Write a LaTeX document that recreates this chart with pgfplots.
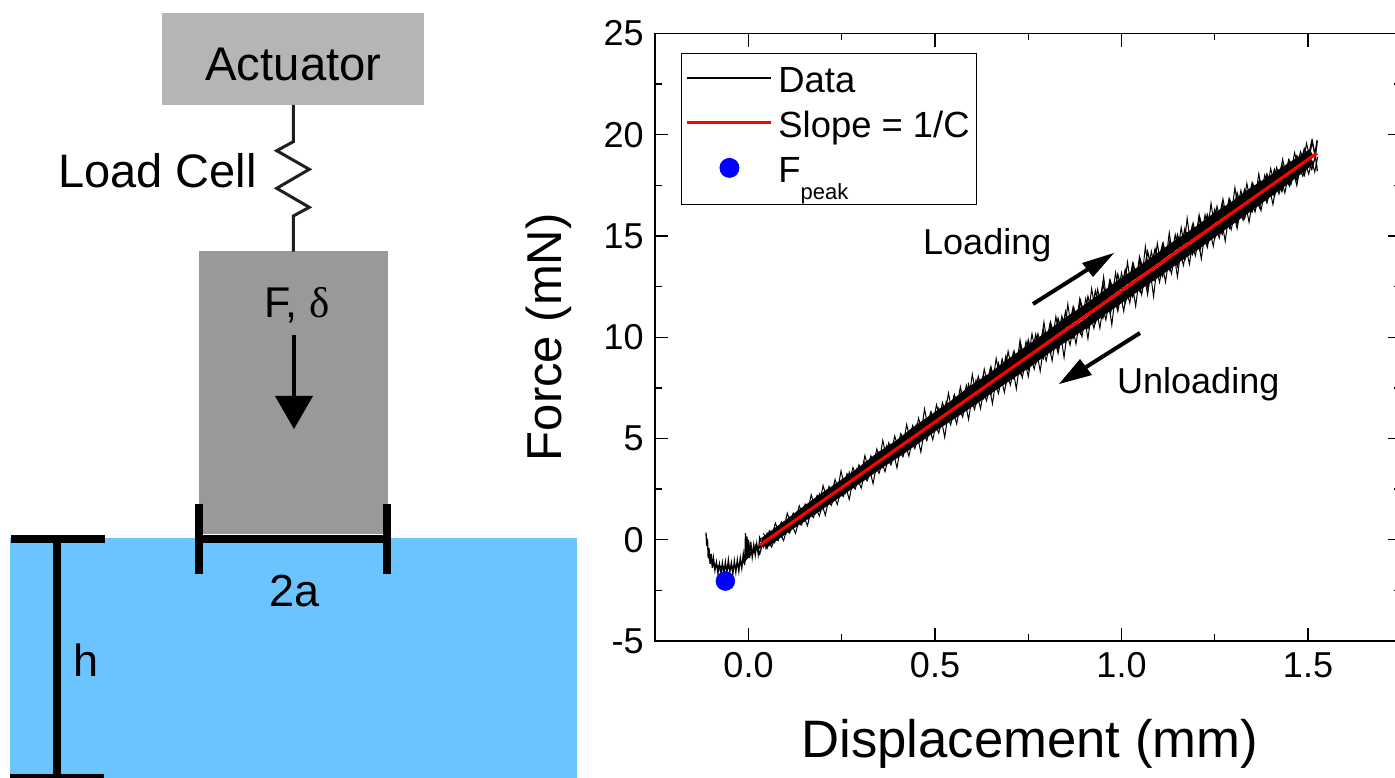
\documentclass[border=0pt]{standalone}
\usepackage{fontspec}
\setmainfont{Liberation Sans}
\newfontfamily\serifdelta{Liberation Serif}
\usepackage{pgfplots}
\pgfplotsset{compat=1.18}
\definecolor{blueh}{HTML}{6CC4FF}
\definecolor{actg}{HTML}{B6B5B3}
\definecolor{blockg}{HTML}{999999}
\newcommand{\fs}[1]{\fontsize{#1pt}{#1pt}\selectfont}
\begin{document}
\begin{tikzpicture}[x=1pt,y=1pt]
\path[use as bounding box] (0,0) rectangle (1395,777);
% schematic, drawn in pixel coordinates of the picture
\begin{scope}[yshift=777pt,y=-1pt]
\fill[blueh] (10,538) rectangle (577,780);
\fill[actg] (162,13) rectangle (424,105);
\fill[blockg] (199,251) rectangle (388,534);
\draw[line width=3pt,color=black!88,line join=miter] (293.3,105)--(293.3,141.7)--(276.7,150.7)--(309.3,169.3)--(276.7,188.3)--(309.3,207.3)--(293.3,216)--(293.3,251.7);
\node[anchor=base] at (293.5,81) {\fs{47.3}Actuator};
\node[anchor=base west,inner sep=0pt] at (58,188) {\fs{47}Load Cell};
\node[anchor=base,inner sep=0pt] at (297,318) {\fs{43}F, {\serifdelta δ}};
\draw[line width=4pt] (294,335)--(294,398);
\fill (275,396)--(313,396)--(294,429)--cycle;
\draw[line width=8pt] (199,539)--(387,539);
\draw[line width=8pt] (199.3,504)--(199.3,574);
\draw[line width=8pt] (387.3,504)--(387.3,574);
\draw[line width=8pt] (11,539)--(105,539);
\draw[line width=8pt] (10,778)--(104,778);
\draw[line width=7.5pt] (57,539)--(57,777);
\node[anchor=base,inner sep=0pt] at (295,606) {\fs{45}2a};
\node[anchor=base,inner sep=0pt] at (86,676) {\fs{45}h};
\end{scope}
\begin{axis}[
  at={(655.25pt,136pt)},anchor=south west,
  scale only axis,width=746pt,height=607.5pt,
  xmin=-0.25,xmax=1.75,ymin=-5,ymax=25,
  xtick={0,0.5,1,1.5},ytick={-5,0,5,10,15,20,25},
  minor xtick={-0.25,0.25,0.75,1.25,1.75},
  minor ytick={-2.5,2.5,7.5,12.5,17.5,22.5},
  tick align=inside,
  major tick length=13pt,minor tick length=7pt,
  every tick/.style={black,line width=1.4pt},
  axis line style={line width=1.6pt},
  tick label style={font=\fs{36}},
  xticklabel style={/pgf/number format/fixed,/pgf/number format/fixed zerofill,/pgf/number format/precision=1,/pgf/number format/assume math mode=true,yshift=-8pt},
  yticklabel style={/pgf/number format/assume math mode=true,xshift=-8pt},
  xlabel={\fs{52.7}Displacement (mm)},
  ylabel={\fs{49}Force (mN)},
  xlabel style={at={(axis description cs:0.502,0)},anchor=base,yshift=-116pt},
  ylabel style={at={(axis description cs:0,0.5)},anchor=base,yshift=94pt},
  legend style={at={(0.0345,0.968)},anchor=north west,draw=black,line width=0.9pt,
    inner xsep=2pt,inner ysep=8pt,row sep=0pt,
    nodes={font=\fs{36.4},text height=27pt,text depth=9pt,inner xsep=5pt,inner ysep=4.5pt}},
  legend cell align=left,
  legend image code/.code={\path[draw=none] (0pt,6pt)--(90pt,6pt);\draw[#1] (4pt,6pt)--(88pt,6pt);},
]
% dense core of the two branches
\addplot[forget plot,black,line width=8.5pt] coordinates {(0.04,-0.1)(0.1,0.72)(0.15,1.42)(0.2,2.1)(0.25,2.72)(0.3,3.38)(0.35,4.1)(0.4,4.7)(0.45,5.42)(0.5,6.06)(0.55,6.7)(0.6,7.42)(0.65,8.02)(0.7,8.72)(0.75,9.38)(0.8,10.02)(0.85,10.72)(0.9,11.34)(0.95,12.0)(1.0,12.68)(1.05,13.3)(1.1,13.95)(1.15,14.62)(1.2,15.22)(1.25,15.9)(1.3,16.5)(1.35,17.18)(1.4,17.76)(1.45,18.38)(1.51,19.1)};
\addplot[forget plot,black,line width=8.5pt] coordinates {(0.04,-0.25)(0.1,0.55)(0.15,1.16)(0.2,1.78)(0.25,2.42)(0.3,3.05)(0.35,3.7)(0.4,4.3)(0.45,4.94)(0.5,5.6)(0.55,6.2)(0.6,6.82)(0.65,7.48)(0.7,8.1)(0.75,8.72)(0.8,9.4)(0.85,10.02)(0.9,10.62)(0.95,11.3)(1.0,11.94)(1.05,12.6)(1.1,13.22)(1.15,13.9)(1.2,14.52)(1.25,15.2)(1.3,15.86)(1.35,16.52)(1.4,17.2)(1.45,17.88)(1.51,18.75)};
\addplot[forget plot,black,line width=2.5pt] coordinates {(-0.105,-0.9)(-0.09,-1.3)(-0.05,-1.4)(-0.02,-1.2)(0.01,-0.6)(0.05,-0.1)};
% loading branch
\addplot[black,line width=1.3pt] coordinates {
(-0.114,0.35)(-0.112,-0.3)(-0.11,0.05)(-0.108,-0.9)(-0.106,-0.4)(-0.103,-1.2)(-0.1,-0.7)(-0.097,-1.4)(-0.094,-0.9)(-0.09,-1.5)
(-0.086,-1.1)(-0.082,-1.65)(-0.078,-1.2)(-0.074,-1.7)(-0.07,-1.15)(-0.066,-1.7)(-0.062,-1.1)(-0.058,-1.65)(-0.054,-1.0)(-0.05,-1.6)
(-0.046,-1.15)(-0.042,-1.7)(-0.038,-1.05)(-0.034,-1.6)(-0.03,-1.0)(-0.026,-1.55)(-0.022,-0.9)(-0.018,-1.4)(-0.014,-0.7)(-0.01,-1.25)
(-0.008,0.33)(-0.006,-0.9)(-0.004,0.15)(-0.002,-0.85)(0,0)(0.003,-0.9)(0.006,-0.1)(0.01,-0.85)(0.014,-0.25)(0.018,-0.75)(0.022,-0.2)(0.026,-0.7)
(0.03,0.10)(0.04,-0.35)(0.05,0.30)(0.06,-0.20)(0.07,0.55)(0.08,0.02)(0.09,0.78)(0.10,0.32)(0.11,1.05)(0.12,0.58)
(0.13,1.34)(0.14,0.80)(0.15,1.62)(0.16,1.05)(0.17,1.86)(0.18,1.35)(0.19,2.22)(0.20,1.55)(0.21,2.38)(0.22,1.85)
(0.23,2.72)(0.24,2.12)(0.25,2.90)(0.26,2.35)(0.27,3.30)(0.28,2.62)(0.29,3.45)(0.30,2.90)(0.31,3.80)(0.32,3.10)
(0.33,4.02)(0.34,3.42)(0.35,4.28)(0.36,3.62)(0.37,4.58)(0.38,3.95)(0.39,4.78)(0.40,4.15)(0.41,5.12)(0.42,4.42)
(0.43,5.32)(0.44,4.72)(0.45,5.62)(0.46,4.95)(0.47,5.88)(0.48,5.25)(0.49,6.25)(0.50,5.50)(0.51,6.45)(0.52,5.80)
(0.53,6.78)(0.54,6.05)(0.55,7.02)(0.56,6.35)(0.57,7.25)(0.58,6.65)(0.59,7.65)(0.60,6.90)(0.61,7.85)(0.62,7.22)
(0.63,8.10)(0.64,7.50)(0.65,8.52)(0.66,7.75)(0.67,8.70)(0.68,8.02)(0.69,9.05)(0.70,8.32)(0.71,9.22)(0.72,8.60)
(0.73,9.60)(0.74,8.90)(0.75,9.85)(0.76,9.15)(0.77,10.12)(0.78,9.45)(0.79,10.38)(0.80,9.72)(0.81,10.72)(0.82,10.0)
(0.83,10.92)(0.84,10.28)(0.85,11.25)(0.86,10.55)(0.87,11.45)(0.88,10.82)(0.89,11.80)(0.90,11.08)(0.91,12.0)(0.92,11.35)
(0.93,12.28)(0.94,11.6)(0.95,12.65)(0.96,11.88)(0.97,12.78)(0.98,12.18)(0.99,13.1)(1.00,12.42)(1.01,13.32)(1.02,12.68)
(1.03,13.62)(1.04,12.95)(1.05,13.85)(1.06,13.22)(1.07,14.22)(1.08,13.48)(1.09,14.35)(1.10,13.78)(1.11,14.6)(1.12,14.02)
(1.13,14.78)(1.14,14.2)(1.15,15.05)(1.16,14.45)(1.17,15.35)(1.18,14.7)(1.19,15.52)(1.20,14.98)(1.21,15.88)(1.22,15.22)
(1.23,16.05)(1.24,15.5)(1.25,16.3)(1.26,15.72)(1.27,16.62)(1.28,15.98)(1.29,16.8)(1.30,16.25)(1.31,17.12)(1.32,16.52)
(1.33,17.28)(1.34,16.78)(1.35,17.6)(1.36,17.05)(1.37,17.78)(1.38,17.32)(1.39,18.05)(1.40,17.55)(1.41,18.28)(1.42,17.82)
(1.43,18.52)(1.44,18.08)(1.45,18.72)(1.46,18.35)(1.47,18.95)(1.48,18.6)(1.49,19.3)(1.50,18.85)(1.51,19.68)(1.52,19.0)(1.525,19.7)
};
\addlegendentry{Data}
% upper spikes
\addplot[forget plot,black,line width=1pt] coordinates {
(0.04,0.31)(0.048,0.06)(0.056,0.45)(0.064,0.27)(0.072,0.82)(0.08,0.47)(0.088,0.88)(0.096,0.68)(0.104,1.31)(0.112,0.89)
(0.12,1.32)(0.128,1.10)(0.136,1.68)(0.144,1.30)(0.152,1.76)(0.16,1.51)(0.168,2.22)(0.176,1.72)(0.184,2.20)(0.192,1.92)
(0.2,2.68)(0.208,2.13)(0.216,2.64)(0.224,2.34)(0.232,2.97)(0.24,2.55)(0.248,3.40)(0.256,2.75)(0.264,3.26)(0.272,2.96)
(0.28,3.57)(0.288,3.17)(0.296,3.70)(0.304,3.38)(0.312,4.16)(0.32,3.58)(0.328,4.14)(0.336,3.79)(0.344,4.48)(0.352,4.0)
(0.36,4.91)(0.368,4.21)(0.376,4.79)(0.384,4.41)(0.392,5.12)(0.4,4.62)(0.408,5.23)(0.416,4.83)(0.424,5.69)(0.432,5.04)
(0.44,5.64)(0.448,5.24)(0.456,6.0)(0.464,5.45)(0.472,6.46)(0.48,5.66)(0.488,6.28)(0.496,5.86)(0.504,6.67)(0.512,6.07)
(0.52,6.78)(0.528,6.28)(0.536,7.24)(0.544,6.49)(0.552,7.17)(0.56,6.69)(0.568,7.55)(0.576,6.9)(0.584,7.63)(0.592,7.11)
(0.6,8.17)(0.608,7.32)(0.616,8.07)(0.624,7.52)(0.632,8.43)(0.64,7.73)(0.648,8.46)(0.656,7.94)(0.664,8.95)(0.672,8.15)
(0.68,8.93)(0.688,8.35)(0.696,9.31)(0.704,8.56)(0.712,9.32)(0.72,8.77)(0.728,9.87)(0.736,8.97)(0.744,9.78)(0.752,9.18)
(0.76,10.17)(0.768,9.39)(0.776,10.18)(0.784,9.6)(0.792,10.75)(0.8,9.8)(0.808,10.66)(0.816,10.01)(0.824,11.02)(0.832,10.22)
(0.84,11.05)(0.848,10.43)(0.856,11.63)(0.864,10.63)(0.872,11.49)(0.88,10.84)(0.888,11.90)(0.896,11.05)(0.904,11.91)(0.912,11.26)
(0.92,12.41)(0.928,11.46)(0.936,12.37)(0.944,11.67)(0.952,12.98)(0.96,11.88)(0.968,12.79)(0.976,12.09)(0.984,13.19)(0.992,12.29)
(1.0,13.18)(1.008,12.5)(1.016,13.71)(1.024,12.71)(1.032,13.61)(1.04,12.91)(1.048,13.97)(1.056,13.12)(1.064,14.48)(1.072,13.33)
(1.08,14.24)(1.088,13.54)(1.096,14.64)(1.104,13.74)(1.112,14.63)(1.12,13.95)(1.128,15.16)(1.136,14.16)(1.144,15.07)(1.152,14.37)
(1.16,15.42)(1.168,14.57)(1.176,15.88)(1.184,14.78)(1.192,15.64)(1.2,14.99)(1.208,16.05)(1.216,15.2)(1.224,16.05)(1.232,15.4)
(1.24,16.61)(1.248,15.61)(1.256,16.47)(1.264,15.82)(1.272,16.83)(1.28,16.03)(1.288,16.83)(1.296,16.23)(1.304,17.39)(1.312,16.44)
(1.32,17.25)(1.328,16.65)(1.336,17.60)(1.344,16.85)(1.352,17.61)(1.36,17.06)(1.368,18.07)(1.376,17.27)(1.384,18.0)(1.392,17.48)
(1.4,18.33)(1.408,17.68)(1.416,18.39)(1.424,17.89)(1.432,18.8)(1.44,18.1)(1.448,18.76)(1.456,18.31)(1.464,19.11)(1.472,18.51)
(1.48,19.17)(1.488,18.72)(1.496,19.58)(1.504,18.93)(1.512,19.69)(1.518,19.0)(1.524,19.74)
};
% lower spikes
\addplot[forget plot,black,line width=1pt] coordinates {
(0.046,-0.48)(0.054,-0.16)(0.062,-0.36)(0.07,0.04)(0.078,-0.03)(0.086,0.25)(0.094,-0.04)(0.102,0.46)(0.11,0.32)(0.118,0.67)
(0.126,0.32)(0.134,0.87)(0.142,0.73)(0.15,1.08)(0.158,0.69)(0.166,1.29)(0.174,1.09)(0.182,1.49)(0.19,1.18)(0.198,1.70)
(0.206,1.21)(0.214,1.91)(0.222,1.70)(0.23,2.12)(0.238,1.74)(0.246,2.32)(0.254,2.13)(0.262,2.53)(0.27,1.99)(0.278,2.74)
(0.286,2.50)(0.294,2.95)(0.302,2.55)(0.31,3.15)(0.318,2.91)(0.326,3.36)(0.334,2.77)(0.342,3.57)(0.35,3.28)(0.358,3.78)
(0.366,3.36)(0.374,3.98)(0.382,3.69)(0.39,4.19)(0.398,3.55)(0.406,4.40)(0.414,4.09)(0.422,4.61)(0.43,4.13)(0.438,4.81)
(0.446,4.50)(0.454,5.02)(0.462,4.33)(0.47,5.23)(0.478,4.89)(0.486,5.44)(0.494,4.94)(0.502,5.64)(0.51,5.27)(0.518,5.85)
(0.526,5.06)(0.534,6.06)(0.542,5.67)(0.55,6.27)(0.558,5.72)(0.566,6.47)(0.574,6.06)(0.582,6.68)(0.59,5.94)(0.598,6.89)
(0.606,6.44)(0.614,7.09)(0.622,6.48)(0.63,7.30)(0.638,6.86)(0.646,7.51)(0.654,6.72)(0.662,7.72)(0.67,7.22)(0.678,7.92)
(0.686,7.28)(0.694,8.13)(0.702,7.64)(0.71,8.34)(0.718,7.45)(0.726,8.55)(0.734,8.0)(0.742,8.75)(0.75,8.06)(0.758,8.96)
(0.766,8.42)(0.774,9.17)(0.782,8.32)(0.79,9.37)(0.798,8.83)(0.806,9.58)(0.814,8.84)(0.822,9.79)(0.83,9.2)(0.838,10.0)
(0.846,9.0)(0.854,10.2)(0.862,9.61)(0.87,10.41)(0.878,9.67)(0.886,10.62)(0.894,10.03)(0.902,10.83)(0.91,9.93)(0.918,11.03)
(0.926,10.44)(0.934,11.24)(0.942,10.45)(0.95,11.45)(0.958,10.86)(0.966,11.66)(0.974,10.61)(0.982,11.86)(0.99,11.27)(0.998,12.07)
(1.006,11.28)(1.014,12.28)(1.022,11.69)(1.03,12.49)(1.038,11.54)(1.046,12.69)(1.054,12.1)(1.062,12.9)(1.07,12.11)(1.078,13.11)
(1.086,12.01)(1.094,13.31)(1.102,12.72)(1.11,13.52)(1.118,12.73)(1.126,13.73)(1.134,13.14)(1.142,13.94)(1.15,12.99)(1.158,14.14)
(1.166,13.55)(1.174,14.35)(1.182,13.61)(1.19,14.56)(1.198,14.02)(1.206,14.77)(1.214,13.87)(1.222,14.97)(1.23,14.43)(1.238,15.18)
(1.246,14.49)(1.254,15.39)(1.262,14.9)(1.27,15.6)(1.278,14.75)(1.286,15.8)(1.294,15.31)(1.302,16.01)(1.31,15.37)(1.318,16.22)
(1.326,15.78)(1.334,16.43)(1.342,15.68)(1.35,16.63)(1.358,16.19)(1.366,16.84)(1.374,16.25)(1.382,17.05)(1.39,16.63)(1.398,17.25)
(1.406,16.56)(1.414,17.46)(1.422,17.07)(1.43,17.67)(1.438,17.13)(1.446,17.88)(1.454,17.53)(1.462,18.08)(1.47,17.49)(1.478,18.29)
(1.486,17.95)(1.494,18.5)(1.502,18.06)(1.51,18.71)(1.518,18.16)(1.526,18.91)
};
% unloading branch
\addplot[forget plot,black,line width=1.3pt] coordinates {
(1.525,18.2)(1.52,18.95)(1.51,18.3)(1.50,18.72)(1.49,18.0)(1.48,18.4)(1.47,17.75)(1.46,18.15)(1.45,17.48)(1.44,17.9)
(1.43,17.2)(1.42,17.62)(1.41,16.98)(1.40,17.35)(1.39,16.75)(1.38,17.1)(1.37,16.42)(1.36,16.85)(1.35,16.2)(1.34,16.58)
(1.33,15.88)(1.32,16.32)(1.31,15.62)(1.30,16.05)(1.29,15.4)(1.28,15.8)(1.27,15.1)(1.26,15.52)(1.25,14.9)(1.24,15.28)
(1.23,14.62)(1.22,15.02)(1.21,14.3)(1.20,14.75)(1.19,14.1)(1.18,14.5)(1.17,13.85)(1.16,14.22)(1.15,13.5)(1.14,13.98)
(1.13,13.3)(1.12,13.72)(1.11,13.02)(1.10,13.45)(1.09,12.8)(1.08,13.2)(1.07,12.45)(1.06,12.95)(1.05,12.25)(1.04,12.68)
(1.03,12.0)(1.02,12.42)(1.01,11.7)(1.00,12.15)(0.99,11.5)(0.98,11.9)(0.97,11.2)(0.96,11.65)(0.95,10.95)(0.94,11.4)
(0.93,10.72)(0.92,11.15)(0.91,10.45)(0.90,10.88)(0.89,10.2)(0.88,10.62)(0.87,9.95)(0.86,10.38)(0.85,9.72)(0.84,10.12)
(0.83,9.4)(0.82,9.85)(0.81,9.22)(0.80,9.6)(0.79,8.95)(0.78,9.35)(0.77,8.7)(0.76,9.08)(0.75,8.42)(0.74,8.82)
(0.73,8.2)(0.72,8.58)(0.71,7.98)(0.70,8.3)(0.69,7.7)(0.68,8.05)(0.67,7.5)(0.66,7.8)(0.65,7.18)(0.64,7.55)
(0.63,6.98)(0.62,7.3)(0.61,6.72)(0.60,7.05)(0.59,6.52)(0.58,6.8)(0.57,6.25)(0.56,6.55)(0.55,6.02)(0.54,6.3)
(0.53,5.75)(0.52,6.05)(0.51,5.52)(0.50,5.8)(0.49,5.25)(0.48,5.55)(0.47,5.02)(0.46,5.3)(0.45,4.8)(0.44,5.05)
(0.43,4.5)(0.42,4.8)(0.41,4.3)(0.40,4.55)(0.39,4.02)(0.38,4.3)(0.37,3.8)(0.36,4.05)(0.35,3.5)(0.34,3.8)
(0.33,3.28)(0.32,3.55)(0.31,3.0)(0.30,3.3)(0.29,2.78)(0.28,3.05)(0.27,2.5)(0.26,2.8)(0.25,2.25)(0.24,2.55)
(0.23,1.98)(0.22,2.3)(0.21,1.72)(0.20,2.05)(0.19,1.45)(0.18,1.8)(0.17,1.22)(0.16,1.5)(0.15,0.95)(0.14,1.3)
(0.13,0.7)(0.12,1.0)(0.11,0.42)(0.10,0.75)(0.09,0.15)(0.08,0.5)(0.07,-0.12)(0.06,0.25)(0.05,-0.4)(0.04,0.0)
(0.03,-0.7)(0.02,-0.25)(0.01,-0.75)
};
\addplot[red,line width=3.2pt] coordinates {(0.031,-0.26)(1.524,19.09)};
\addlegendentry{Slope = 1/C}
\addplot[only marks,mark=*,mark size=9.5pt,color=blue,
  legend image code/.code={\path[draw=none] (0pt,6pt)--(90pt,6pt);\fill[blue] (46pt,6pt) circle (9.5pt);}] coordinates {(-0.062,-2.04)};
\addlegendentry{F\raisebox{-0.45em}{\fs{22}peak}}
\end{axis}
\begin{scope}[yshift=777pt,y=-1pt]
\draw[line width=4pt] (1033,304)--(1090,268);
\fill (1114,253)--(1082,263)--(1093,277)--cycle;
\draw[line width=4pt] (1140,333)--(1083,369);
\fill (1059,384)--(1080,359)--(1092,375)--cycle;
\node[anchor=base west,inner sep=0pt] at (923,255) {\fs{36}Loading};
\node[anchor=base west,inner sep=0pt] at (1117,394) {\fs{36}Unloading};
\end{scope}
\end{tikzpicture}
\end{document}
